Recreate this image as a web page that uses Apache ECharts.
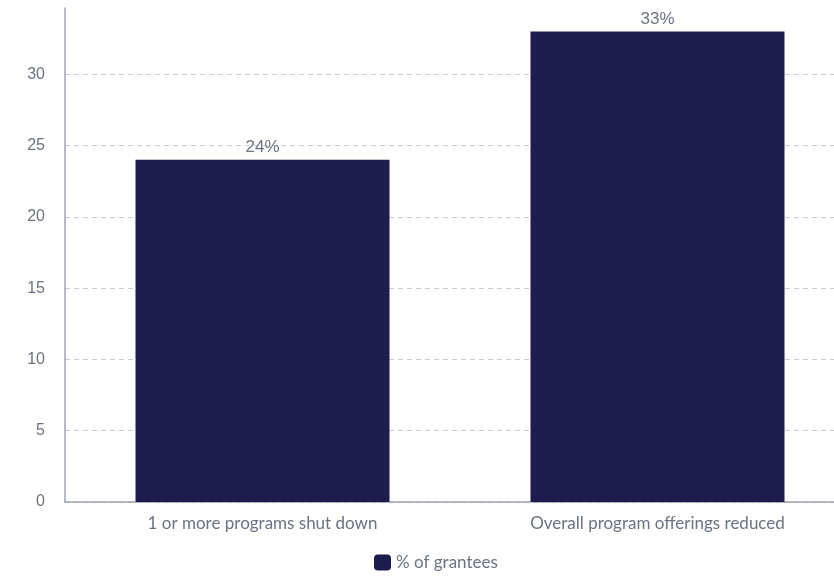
<!DOCTYPE html>
<html>
<head>
<meta charset="utf-8">
<script src="https://cdn.jsdelivr.net/npm/echarts@6/dist/echarts.min.js"></script>
<style>
  html, body { margin: 0; padding: 0; background: #fff; }
  #main { width: 834px; height: 578px; }
</style>
</head>
<body>
<div id="main"></div>
<script>
var categories = ['1 or more programs shut down', 'Overall program offerings reduced'];
var grantees = [24, 33];
var seriesName = '% of grantees';

var chart = echarts.init(document.getElementById('main'));
var textColor = '#6b7280';

chart.setOption({
    animation: false,
    textStyle: { fontFamily: 'Lato' },
    // the plot runs past the right edge of the picture
    grid: { left: 65, width: 790, top: 8, bottom: 76, outerBoundsMode: 'none', containLabel: false },
    legend: {
        bottom: 2,
        left: 369,
        itemWidth: 17,
        itemHeight: 16,
        itemGap: 8,
        icon: 'roundRect',
        textStyle: { color: textColor, fontSize: 17, fontFamily: 'Lato' },
        data: [seriesName]
    },
    xAxis: {
        type: 'category',
        data: categories,
        axisTick: { show: false },
        axisLine: { lineStyle: { color: '#9ca3af', width: 1.5 } },
        axisLabel: { color: textColor, fontSize: 17, margin: 13, fontFamily: 'Lato' }
    },
    yAxis: {
        type: 'value',
        min: 0,
        max: 34.65,
        interval: 5,
        axisLine: { show: true, lineStyle: { color: '#9ca3af', width: 1.5 } },
        axisTick: { show: false },
        axisLabel: {
            color: textColor, fontSize: 16, margin: 20, fontFamily: 'Liberation Sans',
            showMaxLabel: false
        },
        splitLine: {
            showMaxLine: false,
            lineStyle: { color: '#c8cbd0', type: [5, 4] }
        }
    },
    series: [{
        name: seriesName,
        type: 'bar',
        data: grantees,
        barWidth: 254,
        itemStyle: { color: '#1e1b4f' },
        label: {
            show: true,
            position: 'top',
            distance: 4,
            color: textColor,
            fontSize: 17,
            fontFamily: 'Liberation Sans',
            formatter: '{c}%'
        }
    }]
});
</script>
</body>
</html>
